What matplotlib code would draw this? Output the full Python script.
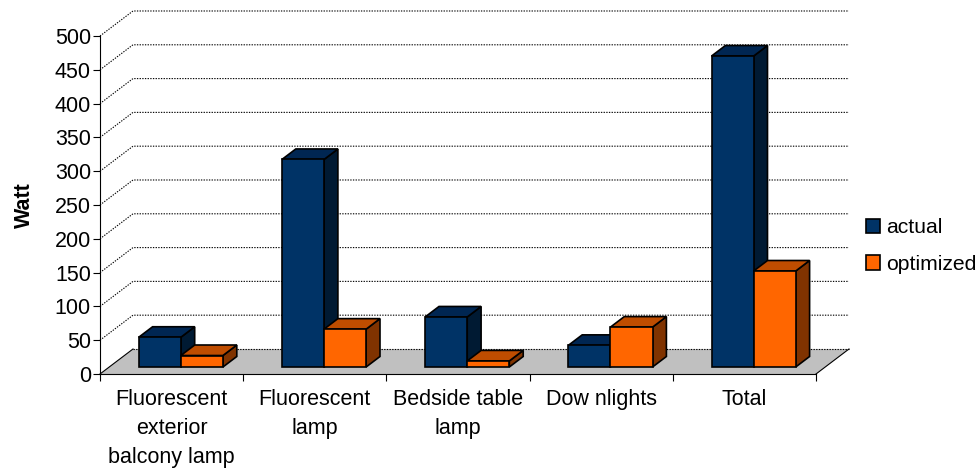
"""Pseudo 3D clustered bars of lamp wattage, actual vs optimized."""
import matplotlib
matplotlib.use('Agg')
import matplotlib.pyplot as plt
from matplotlib.patches import Patch, Polygon

categories = ['Fluorescent\nexterior\nbalcony lamp', 'Fluorescent\nlamp',
	'Bedside table\nlamp', 'Dow nlights', 'Total']
actual = [44, 307, 74, 32, 460]
optimized = [17, 56, 9, 59, 142]
y_ticks = [0, 50, 100, 150, 200, 250, 300, 350, 400, 450, 500]

BLUE = ('#003366', '#002652', '#001a33')
ORANGE = ('#ff6600', '#bf4d00', '#803300')

# Depth of the chart box in data units (33 px right, 25 px up).
DEPTH_X = 0.2304
DEPTH_Y = 37.0
NEAR, FAR = 0.28, 0.70
GAP, BAR_W = 0.206, 0.294

FONT = 15.5

plt.rcParams['font.family'] = ['Liberation Sans', 'DejaVu Sans']

W, H = 979, 468


def project(x, v, depth):
	return (x + DEPTH_X * depth, v + DEPTH_Y * depth)


def draw_bar(ax, x0, x1, v, colors, zorder):
	"""One box: top and side first, then the front face over them."""
	a, b = NEAR, FAR
	front = [project(x0, 0, a), project(x1, 0, a), project(x1, v, a), project(x0, v, a)]
	top = [project(x0, v, a), project(x1, v, a), project(x1, v, b), project(x0, v, b)]
	side = [project(x1, 0, a), project(x1, 0, b), project(x1, v, b), project(x1, v, a)]
	for pts, c in ((side, colors[2]), (top, colors[1]), (front, colors[0])):
		ax.add_patch(Polygon(pts, closed=True, facecolor=c, edgecolor='black',
			linewidth=1.2, joinstyle='miter', zorder=zorder, clip_on=False))


fig = plt.figure(figsize=(W / 100, H / 100), dpi=100)
ax = fig.add_axes([100 / W, (H - 374) / H, 716 / W, 338 / H])
ax.set_xlim(0, len(categories))
ax.set_ylim(0, 500)

# floor
floor = [project(0, 0, 0), project(5, 0, 0), project(5, 0, 1), project(0, 0, 1)]
ax.add_patch(Polygon(floor, closed=True, facecolor='#c0c0c0', edgecolor='none',
	zorder=1, clip_on=False))
ax.plot([0, DEPTH_X], [0, DEPTH_Y], color='black', lw=0.8, zorder=2, clip_on=False)
ax.plot([5, 5 + DEPTH_X], [0, DEPTH_Y], color='black', lw=0.8, zorder=2, clip_on=False)

# back wall gridlines with their diagonal on the side wall
for v in y_ticks:
	xs = [0, DEPTH_X, 5 + DEPTH_X]
	ys = [v, v + DEPTH_Y, v + DEPTH_Y]
	if v == 0:
		xs, ys = xs[1:], ys[1:]
	ax.plot(xs, ys, color='black', lw=0.8, dashes=(1.2, 1.2), zorder=1.5, clip_on=False)

z = 3
for i in range(len(categories)):
	draw_bar(ax, i + GAP, i + GAP + BAR_W, actual[i], BLUE, z)
	draw_bar(ax, i + GAP + BAR_W, i + GAP + 2 * BAR_W, optimized[i], ORANGE, z + 1)
	z += 2

ax.spines['top'].set_visible(False)
ax.spines['right'].set_visible(False)
ax.set_xticks(range(len(categories) + 1))
ax.set_xticklabels([])
ax.set_xticks([i + 0.5 for i in range(len(categories))], minor=True)
ax.set_xticklabels(categories, minor=True, fontsize=FONT, linespacing=1.5)
ax.tick_params(axis='x', which='minor', length=0, pad=11)
ax.tick_params(axis='x', which='major', length=5, width=0.8)
ax.set_yticks(y_ticks)
ax.tick_params(axis='y', length=5, width=0.8, labelsize=FONT, pad=1.5)
ax.patch.set_visible(False)

fig.text(24 / W, (H - 205) / H, 'Watt', rotation=90, fontsize=15.5, fontweight='bold',
	ha='center', va='center')

handles = [Patch(facecolor=BLUE[0], edgecolor='black', linewidth=1.2, label='actual'),
	Patch(facecolor=ORANGE[0], edgecolor='black', linewidth=1.2, label='optimized')]
fig.legend(handles=handles, loc='upper left', bbox_to_anchor=(866 / W, (H - 218) / H),
	frameon=False, fontsize=15.2, handlelength=0.65, handleheight=0.65, handletextpad=0.28,
	labelspacing=0.85, borderpad=0, borderaxespad=0)

fig.savefig('out.png', dpi=100)
